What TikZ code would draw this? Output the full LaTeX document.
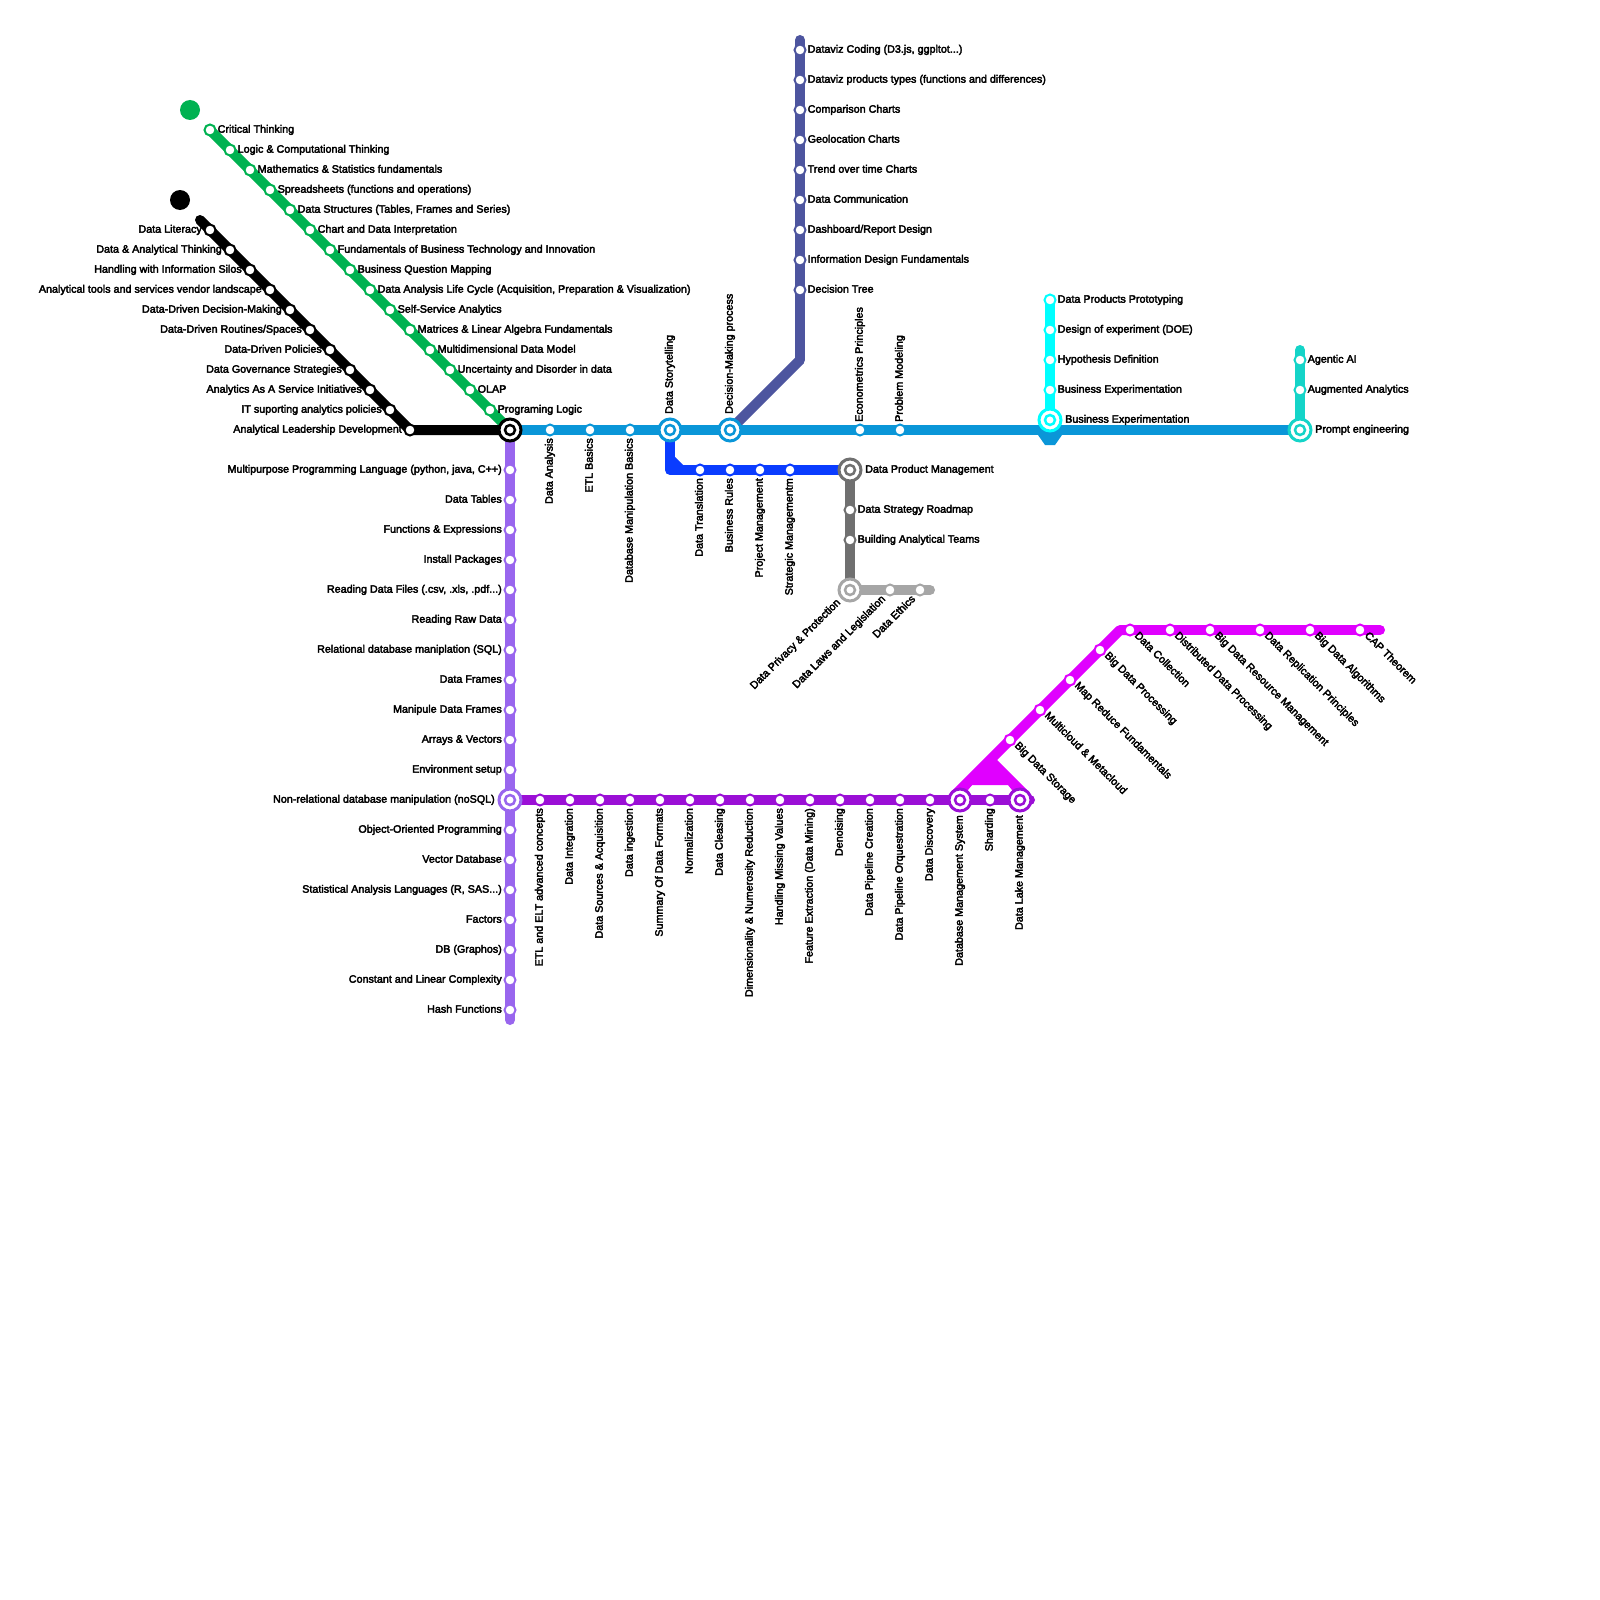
\documentclass[tikz,border=0pt]{standalone}
\usepackage{fontspec}
\setmainfont{Liberation Sans}[FakeBold=3.2]
\usetikzlibrary{backgrounds}
\definecolor{cGreen}{HTML}{00B251}
\definecolor{cBlue}{HTML}{0A96D8}
\definecolor{cIndigo}{HTML}{4D559F}
\definecolor{cRoyal}{HTML}{0A3CFF}
\definecolor{cGrey}{HTML}{707070}
\definecolor{cLight}{HTML}{A6A6A6}
\definecolor{cMag}{HTML}{E000FF}
\definecolor{cPurple}{HTML}{9B0FD6}
\definecolor{cLav}{HTML}{9966EE}
\definecolor{cCyan}{HTML}{00FFFF}
\definecolor{cTeal}{HTML}{14D4C8}
\tikzset{
  x=1pt,y=-1pt,
  stn/.style={circle,fill=white,draw=#1,line width=2pt,minimum size=11pt,inner sep=0pt},
  hubo/.style={circle,fill=white,draw=#1,line width=3pt,minimum size=22pt,inner sep=0pt},
  hubc/.style={circle,fill=white,draw=#1,line width=2.5pt,minimum size=10pt,inner sep=0pt},
  lab/.style={inner sep=0pt,text=black,font=\fontsize{10.75}{13}\selectfont},
  metro/.style={line width=10pt,draw=#1,line cap=round,line join=round},
  spot/.style={circle,fill=#1,minimum size=20pt,inner sep=0pt},
}
% name, colour, x, y, text (optional: offset)
\newcommand\stE[6][7.5]{\node[stn=#3] (#2) at (#4,#5) {}; \node[lab,anchor=base west] (#2l) at ({#4+#1},{#5+2.7}) {#6};}
\newcommand\stW[6][8]{\node[stn=#3] (#2) at (#4,#5) {}; \node[lab,anchor=base east] (#2l) at ({#4-#1},{#5+2.7}) {#6};}
\newcommand\stU[6][8]{\node[stn=#3] (#2) at (#4,#5) {}; \node[lab,anchor=base west,rotate=90] (#2l) at ({#4+2.7},{#5-#1}) {#6};}
\newcommand\stD[6][8]{\node[stn=#3] (#2) at (#4,#5) {}; \node[lab,anchor=base east,rotate=90] (#2l) at ({#4+2.7},{#5+#1}) {#6};}
\newcommand\stS[5]{\node[stn=#2] (#1) at (#3,#4) {}; \node[lab,anchor=base west,rotate=-45] (#1l) at ({#3+4},{#4+6}) {#5};}
\newcommand\stN[5]{\node[stn=#2] (#1) at (#3,#4) {}; \node[lab,anchor=base east,rotate=45] (#1l) at ({#3-4},{#4+9.5}) {#5};}
\newcommand\hb[4]{\node[hubo=#2] (#1) at (#3,#4) {}; \node[hubc=#2] (#1c) at (#3,#4) {};}
\begin{document}
\begin{tikzpicture}
\useasboundingbox (0,0) rectangle (1600,1600);

\node[spot=cGreen] (gdot) at (190,110) {};
\node[spot=black] (kdot) at (180,200) {};

% Green line
\stE{g1}{cGreen}{210}{130}{Critical Thinking}
\stE{g2}{cGreen}{230}{150}{Logic \& Computational Thinking}
\stE{g3}{cGreen}{250}{170}{Mathematics \& Statistics fundamentals}
\stE{g4}{cGreen}{270}{190}{Spreadsheets (functions and operations)}
\stE{g5}{cGreen}{290}{210}{Data Structures (Tables, Frames and Series)}
\stE{g6}{cGreen}{310}{230}{Chart and Data Interpretation}
\stE{g7}{cGreen}{330}{250}{Fundamentals of Business Technology and Innovation}
\stE{g8}{cGreen}{350}{270}{Business Question Mapping}
\stE{g9}{cGreen}{370}{290}{Data Analysis Life Cycle (Acquisition, Preparation \& Visualization)}
\stE{g10}{cGreen}{390}{310}{Self-Service Analytics}
\stE{g11}{cGreen}{410}{330}{Matrices \& Linear Algebra Fundamentals}
\stE{g12}{cGreen}{430}{350}{Multidimensional Data Model}
\stE{g13}{cGreen}{450}{370}{Uncertainty and Disorder in data}
\stE{g14}{cGreen}{470}{390}{OLAP}
\stE{g15}{cGreen}{490}{410}{Programing Logic}

% Black line
\coordinate (kstart) at (200,220);
\stW{k1}{black}{210}{230}{Data Literacy}
\stW{k2}{black}{230}{250}{Data \& Analytical Thinking}
\stW{k3}{black}{250}{270}{Handling with Information Silos}
\stW{k4}{black}{270}{290}{Analytical tools and services vendor landscape}
\stW{k5}{black}{290}{310}{Data-Driven Decision-Making}
\stW{k6}{black}{310}{330}{Data-Driven Routines/Spaces}
\stW{k7}{black}{330}{350}{Data-Driven Policies}
\stW{k8}{black}{350}{370}{Data Governance Strategies}
\stW{k9}{black}{370}{390}{Analytics As A Service Initiatives}
\stW{k10}{black}{390}{410}{IT suporting analytics policies}
\stW{k11}{black}{410}{430}{Analytical Leadership Development}

% Main blue line
\hb{main}{black}{510}{430}
\stD{b1}{cBlue}{550}{430}{Data Analysis}
\stD{b2}{cBlue}{590}{430}{ETL Basics}
\stD{b3}{cBlue}{630}{430}{Database Manipulation Basics}
\hb{story}{cBlue}{670}{430}
\node[lab,anchor=base west,rotate=90] (storyl) at (672.7,414) {Data Storytelling};
\hb{decide}{cBlue}{730}{430}
\node[lab,anchor=base west,rotate=90] (decidel) at (732.7,414) {Decision-Making process};
\stU{b4}{cBlue}{860}{430}{Econometrics Principles}
\stU{b5}{cBlue}{900}{430}{Problem Modeling}

% Indigo line
\coordinate (itop) at (800,40);
\coordinate (ibend) at (800,360);
\stE{i1}{cIndigo}{800}{50}{Dataviz Coding (D3.js, ggpltot...)}
\stE{i2}{cIndigo}{800}{80}{Dataviz products types (functions and differences)}
\stE{i3}{cIndigo}{800}{110}{Comparison Charts}
\stE{i4}{cIndigo}{800}{140}{Geolocation Charts}
\stE{i5}{cIndigo}{800}{170}{Trend over time Charts}
\stE{i6}{cIndigo}{800}{200}{Data Communication}
\stE{i7}{cIndigo}{800}{230}{Dashboard/Report Design}
\stE{i8}{cIndigo}{800}{260}{Information Design Fundamentals}
\stE{i9}{cIndigo}{800}{290}{Decision Tree}

% Royal blue line
\coordinate (rbend) at (670,470);
\stD{r1}{cRoyal}{700}{470}{Data Translation}
\stD{r2}{cRoyal}{730}{470}{Business Rules}
\stD{r3}{cRoyal}{760}{470}{Project Management}
\stD{r4}{cRoyal}{790}{470}{Strategic Managementm}

% Grey lines
\hb{dpm}{cGrey}{850}{470}
\node[lab,anchor=base west] (dpml) at (865,472.7) {Data Product Management};
\stE{e1}{cGrey}{850}{510}{Data Strategy Roadmap}
\stE{e2}{cGrey}{850}{540}{Building Analytical Teams}
\hb{priv}{cLight}{850}{590}
\node[lab,anchor=base east,rotate=45] (privl) at (841,603) {Data Privacy \& Protection};
\stN{l1}{cLight}{890}{590}{Data Laws and Legislation}
\stN{l2}{cLight}{920}{590}{Data Ethics}
\coordinate (lend) at (930,590);

% Cyan line
\stE{c1}{cCyan}{1050}{300}{Data Products Prototyping}
\stE{c2}{cCyan}{1050}{330}{Design of experiment (DOE)}
\stE{c3}{cCyan}{1050}{360}{Hypothesis Definition}
\stE{c4}{cCyan}{1050}{390}{Business Experimentation}
\hb{bexp}{cCyan}{1050}{420}
\node[lab,anchor=base west] (bexpl) at (1065,422.7) {Business Experimentation};

% Teal line
\coordinate (ttop) at (1300,350);
\stE{t1}{cTeal}{1300}{360}{Agentic AI}
\stE{t2}{cTeal}{1300}{390}{Augmented Analytics}
\hb{prompt}{cTeal}{1300}{430}
\node[lab,anchor=base west] (promptl) at (1315,432.7) {Prompt engineering};

% Lavender line
\stW{v1}{cLav}{510}{470}{Multipurpose Programming Language (python, java, C++)}
\stW{v2}{cLav}{510}{500}{Data Tables}
\stW{v3}{cLav}{510}{530}{Functions \& Expressions}
\stW{v4}{cLav}{510}{560}{Install Packages}
\stW{v5}{cLav}{510}{590}{Reading Data Files (.csv, .xls, .pdf...)}
\stW{v6}{cLav}{510}{620}{Reading Raw Data}
\stW{v7}{cLav}{510}{650}{Relational database maniplation (SQL)}
\stW{v8}{cLav}{510}{680}{Data Frames}
\stW{v9}{cLav}{510}{710}{Manipule Data Frames}
\stW{v10}{cLav}{510}{740}{Arrays \& Vectors}
\stW{v11}{cLav}{510}{770}{Environment setup}
\hb{nosql}{cLav}{510}{800}
\node[lab,anchor=base east] (nosqll) at (495,802.7) {Non-relational database manipulation (noSQL)};
\stW{v12}{cLav}{510}{830}{Object-Oriented Programming}
\stW{v13}{cLav}{510}{860}{Vector Database}
\stW{v14}{cLav}{510}{890}{Statistical Analysis Languages (R, SAS...)}
\stW{v15}{cLav}{510}{920}{Factors}
\stW{v16}{cLav}{510}{950}{DB (Graphos)}
\stW{v17}{cLav}{510}{980}{Constant and Linear Complexity}
\stW{v18}{cLav}{510}{1010}{Hash Functions}
\coordinate (vend) at (510,1020);

% Purple line
\stD{p1}{cPurple}{540}{800}{ETL and ELT advanced concepts}
\stD{p2}{cPurple}{570}{800}{Data Integration}
\stD{p3}{cPurple}{600}{800}{Data Sources \& Acquisition}
\stD{p4}{cPurple}{630}{800}{Data ingestion}
\stD{p5}{cPurple}{660}{800}{Summary Of Data Formats}
\stD{p6}{cPurple}{690}{800}{Normalization}
\stD{p7}{cPurple}{720}{800}{Data Cleasing}
\stD{p8}{cPurple}{750}{800}{Dimensionality \& Numerosity Reduction}
\stD{p9}{cPurple}{780}{800}{Handling Missing Values}
\stD{p10}{cPurple}{810}{800}{Feature Extraction (Data Mining)}
\stD{p11}{cPurple}{840}{800}{Denoising}
\stD{p12}{cPurple}{870}{800}{Data Pipeline Creation}
\stD{p13}{cPurple}{900}{800}{Data Pipeline Orquestration}
\stD{p14}{cPurple}{930}{800}{Data Discovery}
\hb{dbms}{cPurple}{960}{800}
\node[lab,anchor=base east,rotate=90] (dbmsl) at (962.7,815) {Database Management System};
\stD{p15}{cPurple}{990}{800}{Sharding}
\hb{lake}{cPurple}{1020}{800}
\node[lab,anchor=base east,rotate=90] (lakel) at (1022.7,815) {Data Lake Management};
\coordinate (pend) at (1030,800);

% Magenta line
\stS{m1}{cMag}{1010}{740}{Big Data Storage}
\stS{m2}{cMag}{1040}{710}{Multicloud \& Metacloud}
\stS{m3}{cMag}{1070}{680}{Map Reduce Fundamentals}
\stS{m4}{cMag}{1100}{650}{Big Data Processing}
\stS{m5}{cMag}{1130}{630}{Data Collection}
\stS{m6}{cMag}{1170}{630}{Distributed Data Processing}
\stS{m7}{cMag}{1210}{630}{Big Data Resource Management}
\stS{m8}{cMag}{1260}{630}{Data Replication Principles}
\stS{m9}{cMag}{1310}{630}{Big Data Algorithms}
\stS{m10}{cMag}{1360}{630}{CAP Theorem}
\coordinate (mbend) at (1120,630);
\coordinate (mend) at (1380,630);
\coordinate (mfoot) at (955,795);

\begin{scope}[on background layer]
  \draw[metro=cMag,line cap=butt] (mfoot) -- (mbend) -- (m5.center);
  \draw[metro=cMag] (m5.center) -- (mend);
  \fill[cMag] (951,794) -- (998,747) -- (997,760) -- (1027,790) -- (1020,800) -- (1008,785) -- (972,785) -- (960,800) -- cycle;
  \draw[metro=cLav] (main.center) -- (vend);
  \draw[metro=cPurple] (nosql.center) -- (pend);
  \fill[cBlue] (1038,435) -- (1062,435) -- (1055,445) -- (1045,445) -- cycle;
  \draw[metro=cCyan] (c1.center) -- (bexp.center);
  \draw[metro=cTeal] (ttop) -- (prompt.center);
  \draw[metro=cIndigo,line join=miter,line cap=butt] (ibend) -- (decide.center);
  \draw[metro=cIndigo,line join=miter] (itop) -- (ibend);
  \draw[metro=cRoyal] (story.center) -- (rbend) -- (dpm.center);
  \fill[cRoyal] (675,465) -- (675,457) -- (683,465) -- cycle;
  \draw[metro=cGrey] (dpm.center) -- (priv.center);
  \draw[metro=cLight] (priv.center) -- (lend);
  \draw[metro=cBlue,line cap=butt] (main.center) -- (prompt.center);
  \draw[metro=cGreen] (g1.center) -- (main.center);
  \draw[metro=black] (kstart) -- (k11.center) -- (main.center);
\end{scope}
\end{tikzpicture}
\end{document}
